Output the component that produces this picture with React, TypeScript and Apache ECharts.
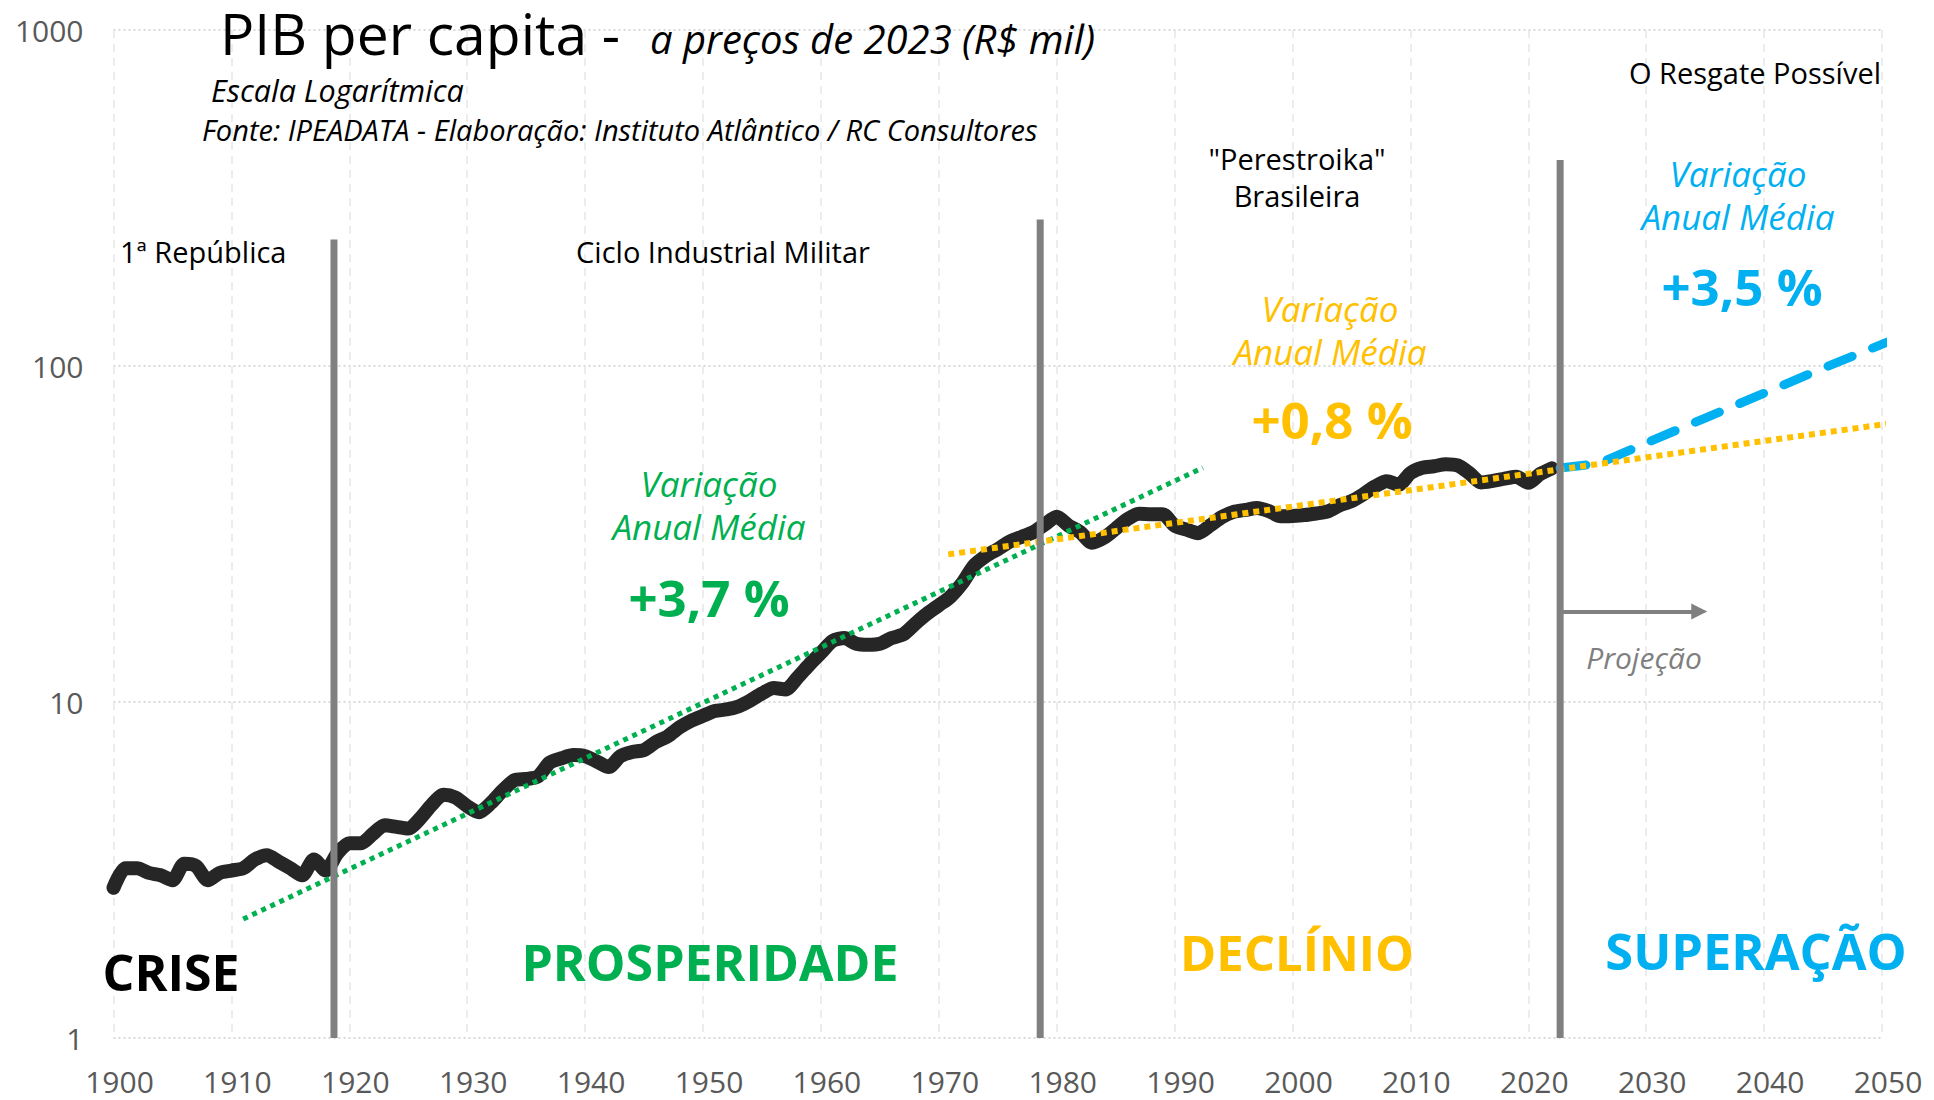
import { useEffect, useRef } from "react";
import * as echarts from "echarts";

// ---- data ----
const startYear = 1900;
// PIB per capita, R$ mil a preços de 2023, 1900..2022
const pibPerCapita = [
  2.8, 3.2, 3.2, 3.1, 3.05, 2.95, 3.3, 3.25, 2.95, 3.1,
  3.15, 3.2, 3.4, 3.5, 3.35, 3.2, 3.05, 3.4, 3.15, 3.55,
  3.8, 3.8, 4.05, 4.3, 4.25, 4.2, 4.5, 4.95, 5.3, 5.2,
  4.9, 4.7, 5.0, 5.45, 5.85, 5.9, 6.0, 6.6, 6.8, 6.95,
  6.9, 6.65, 6.4, 6.9, 7.1, 7.2, 7.6, 7.9, 8.4, 8.8,
  9.1, 9.4, 9.5, 9.7, 10.1, 10.6, 11.0, 10.9, 11.8, 12.9,
  14.0, 15.2, 15.5, 14.9, 14.8, 14.9, 15.5, 15.9, 17.1, 18.3,
  19.4, 20.6, 22.6, 25.5, 27.2, 28.5, 30.0, 31.0, 32.0, 33.8,
  35.6, 33.5, 32.0, 29.8, 30.8, 32.8, 35.0, 36.3, 36.2, 36.2,
  33.5, 32.6, 31.8, 33.5, 35.5, 36.8, 37.3, 37.8, 37.0, 35.7,
  35.8, 36.0, 36.4, 36.9, 38.5, 39.6, 41.5, 43.8, 45.4, 44.3,
  48.0, 49.8, 50.3, 51.0, 50.6, 48.0, 45.0, 45.5, 46.2, 46.8,
  44.9, 47.7, 49.6,
];
const projecao = [
  [2022.7, 49.7], [2026, 51.3], [2030, 59], [2035, 70], [2040, 83], [2045, 98.5], [2050.5, 118],
];
const tendenciaProsperidade = [[1911, 2.26], [1992.4, 49.8]];
const tendenciaDeclinio = [[1970.8, 27.5], [2051.8, 68.3]];
const separadores = [
  { year: 1918.7, top: 238 },
  { year: 1978.6, top: 273 },
  { year: 2022.7, top: 410 },
];
const setaProjecao = [[2022.7, 18.6], [2034.5, 18.6]];
const xMin = 1900;
const xMax = 2050;
const xInterval = 10;
const yMin = 1;
const yMax = 1000;

const FONT = "'Open Sans', 'Noto Sans', sans-serif";
const GREEN = "#00B050";
const YELLOW = "#FFC000";
const BLUE = "#00B0F0";
const GRAY = "#808080";

function txt(
  text: string,
  x: number,
  y: number,
  size: number,
  color: string,
  align: string,
  opts: { italic?: boolean; bold?: boolean } = {}
) {
  return {
    type: "text",
    x,
    y,
    silent: true,
    z: 100,
    style: {
      text,
      fill: color,
      fontSize: size,
      fontFamily: FONT,
      fontStyle: opts.italic ? "italic" : "normal",
      fontWeight: opts.bold ? "bold" : "normal",
      align,
      verticalAlign: "middle",
    },
  };
}

export default function App() {
  const ref = useRef<HTMLDivElement>(null);

  useEffect(() => {
    if (!ref.current) return;
    const chart = echarts.init(ref.current, undefined, { renderer: "svg" });

    const mainData = pibPerCapita.map((v, i) => [startYear + i, v]);

    const sepSeries = separadores.map((s) => ({
      type: "line",
      data: [[s.year, yMin], [s.year, s.top]],
      symbol: "none",
      lineStyle: { color: GRAY, width: 7, cap: "butt" },
      z: 6,
      silent: true,
      clip: false,
    }));

    const option: any = {
      animation: false,
      backgroundColor: "#ffffff",
      grid: { left: 113.5, right: 52, top: 30, bottom: 62, containLabel: false },
      xAxis: {
        type: "value",
        min: xMin,
        max: xMax,
        interval: xInterval,
        axisLine: { show: false },
        axisTick: { show: false },
        axisLabel: {
          color: "#595959",
          fontSize: 30,
          lineHeight: 30,
          fontFamily: FONT,
          margin: 28,
          padding: [0, 0, 0, 12],
          formatter: (v: number) => String(v),
        },
        splitLine: { show: true, lineStyle: { color: "#E6E6E6", width: 1.5, type: [8, 6] } },
      },
      yAxis: {
        type: "log",
        logBase: 10,
        min: yMin,
        max: yMax,
        axisLine: { show: false },
        axisTick: { show: false },
        axisLabel: {
          color: "#595959",
          fontSize: 30,
          fontFamily: FONT,
          margin: 30,
          formatter: (v: number) => String(Math.round(v)),
        },
        splitLine: { show: true, lineStyle: { color: "#D9D9D9", width: 2, type: [2, 3] } },
      },
      series: [
        {
          type: "line",
          data: mainData,
          symbol: "none",
          smooth: 0.25,
          lineStyle: { color: "#262626", width: 14, cap: "round", join: "round" },
          z: 2,
          silent: true,
          markLine: {
            silent: true,
            symbol: ["none", "triangle"],
            symbolSize: [16, 16],
            label: { show: false },
            lineStyle: { color: GRAY, width: 4, type: "solid" },
            data: [[{ coord: setaProjecao[0] }, { coord: setaProjecao[1] }]],
          },
        },
        {
          type: "line",
          data: projecao,
          symbol: "none",
          lineStyle: { color: BLUE, width: 9, type: [26, 22], cap: "round" },
          z: 3,
          silent: true,
          clip: false,
        },
        {
          type: "line",
          data: tendenciaProsperidade,
          symbol: "none",
          lineStyle: { color: GREEN, width: 5, type: [5, 5] },
          z: 4,
          silent: true,
          clip: false,
        },
        {
          type: "line",
          data: tendenciaDeclinio,
          symbol: "none",
          lineStyle: { color: YELLOW, width: 6, type: [6, 5] },
          z: 4,
          silent: true,
          clip: false,
        },
        ...sepSeries,
      ],
      graphic: [
        txt("PIB per capita -", 220, 33, 57, "#000", "left"),
        txt("a preços de 2023 (R$ mil)", 650, 38, 40, "#000", "left", { italic: true }),
        txt("Escala Logarítmica", 211, 90, 30.5, "#000", "left", { italic: true }),
        txt(
          "Fonte: IPEADATA - Elaboração: Instituto Atlântico / RC Consultores",
          202,
          129,
          29,
          "#000",
          "left",
          { italic: true }
        ),
        txt("1ª República", 120, 251, 29, "#000", "left"),
        txt("Ciclo Industrial Militar", 723, 251, 29, "#000", "center"),
        txt("\"Perestroika\"", 1297, 158, 29, "#000", "center"),
        txt("Brasileira", 1297, 195, 29, "#000", "center"),
        txt("O Resgate Possível", 1881, 72, 29, "#000", "right"),

        txt("Variação", 709, 483, 35, GREEN, "center", { italic: true }),
        txt("Anual Média", 709, 526, 35, GREEN, "center", { italic: true }),
        txt("+3,7 %", 709, 597, 51, GREEN, "center", { bold: true }),

        txt("Variação", 1330, 308, 35, YELLOW, "center", { italic: true }),
        txt("Anual Média", 1330, 351, 35, YELLOW, "center", { italic: true }),
        txt("+0,8 %", 1332, 419, 51, YELLOW, "center", { bold: true }),

        txt("Variação", 1738, 173, 35, BLUE, "center", { italic: true }),
        txt("Anual Média", 1738, 216, 35, BLUE, "center", { italic: true }),
        txt("+3,5 %", 1742, 286, 51, BLUE, "center", { bold: true }),

        txt("Projeção", 1644, 657, 30, "#7F7F7F", "center", { italic: true }),

        txt("CRISE", 171, 972, 50, "#000", "center", { bold: true }),
        txt("PROSPERIDADE", 710, 962, 50, GREEN, "center", { bold: true }),
        txt("DECLÍNIO", 1297, 952, 49, YELLOW, "center", { bold: true }),
        txt("SUPERAÇÃO", 1756, 950, 50.5, BLUE, "center", { bold: true }),
      ],
    };

    chart.setOption(option);
    return () => chart.dispose();
  }, []);

  return (
    <div
      ref={ref}
      style={{ position: "fixed", left: 0, top: 0, width: 1934, height: 1100, background: "#fff" }}
    />
  );
}
